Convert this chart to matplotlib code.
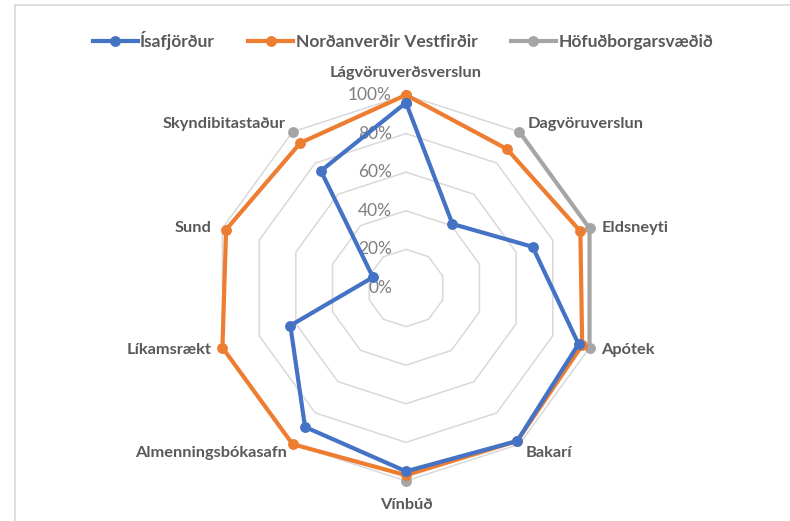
import numpy as np
import matplotlib.pyplot as plt
from matplotlib.lines import Line2D

plt.rcParams['font.family'] = ['Lato', 'DejaVu Sans']

categories = ['Lágvöruverðsverslun', 'Dagvöruverslun', 'Eldsneyti', 'Apótek', 'Bakarí',
              'Vínbúð', 'Almenningsbókasafn', 'Líkamsrækt', 'Sund', 'Skyndibitastaður']
isafjordur = [96, 41, 69, 94, 98, 95, 89, 63, 18, 75]
nordanverdir = [100, 89, 95, 96, 98, 97, 100, 100, 98, 93]
hofudborg = [np.nan, 100, 100, 100, np.nan, 100, np.nan, np.nan, np.nan, 100]
series_names = ['Ísafjörður', 'Norðanverðir Vestfirðir', 'Höfuðborgarsvæðið']
colors = ['#4472c4', '#ed7d31', '#a5a5a5']
ticks = [0, 20, 40, 60, 80, 100]
tick_labels = ['0%', '20%', '40%', '60%', '80%', '100%']

n = len(categories)
theta = np.linspace(0, 2 * np.pi, n, endpoint=False)
theta_c = np.append(theta, theta[0])

fig = plt.figure(figsize=(7.9, 5.21), dpi=100)
ax = fig.add_axes([0.2696, 0.0768, 0.4886, 0.7409], projection='polar')
ax.set_theta_zero_location('N')
ax.set_theta_direction(-1)
ax.set_ylim(0, 100)
ax.grid(False)
ax.spines['polar'].set_visible(False)
ax.set_xticks([])
ax.set_yticks([])
ax.patch.set_alpha(0)

# decagon grid rings
for t in ticks[1:]:
    ax.plot(theta_c, [t] * (n + 1), color='#d9d9d9', lw=1.1, zorder=1)

# series (gray under the others)
data = [isafjordur, nordanverdir, hofudborg]
for k in [2, 1, 0]:
    vals = np.append(data[k], data[k][0])
    ax.plot(theta_c, vals, color=colors[k], lw=3.0, marker='o', ms=6.8,
            zorder=3 + (2 - k), clip_on=False)

# radial tick labels along vertical axis
for t, lab in zip(ticks, tick_labels):
    ax.annotate(lab, (0, t), xytext=(-14, 0), textcoords='offset pixels',
                ha='right', va='center', fontsize=12.5, color='#7f7f7f', zorder=2)

# category labels, fixed pixel offsets from the outer vertex
offsets = [(0, 22), (8, 8), (12, 0), (12, -2), (6, -9),
           (0, -24), (-6, -9), (-11, -2), (-11, 0), (-7, 8)]
for ang, cat, (dx, dy) in zip(theta, categories, offsets):
    s = np.sin(ang)
    if abs(s) < 0.01:
        ha = 'center'
    elif s > 0:
        ha = 'left'
    else:
        ha = 'right'
    ax.annotate(cat, (ang, 100), xytext=(dx, dy), textcoords='offset pixels',
                ha=ha, va='center', fontsize=11.8, fontweight='bold', color='#595959')

handles = [Line2D([0], [0], color=c, lw=3.0, marker='o', ms=6.8) for c in colors]
fig.legend(handles, series_names, loc='center', bbox_to_anchor=(0.51, 0.923), ncol=3,
           frameon=False, handlelength=2.6, handletextpad=0.15, columnspacing=1.9,
           prop={'size': 12.5, 'weight': 'bold'}, labelcolor='#595959')

# chart border (top and left)
fig.add_artist(Line2D([0.019, 1.0], [0.99, 0.99], color='#d9d9d9', lw=1.2))
fig.add_artist(Line2D([0.019, 0.019], [0.0, 0.99], color='#d9d9d9', lw=1.2))

fig.savefig('out.png', dpi=100)
